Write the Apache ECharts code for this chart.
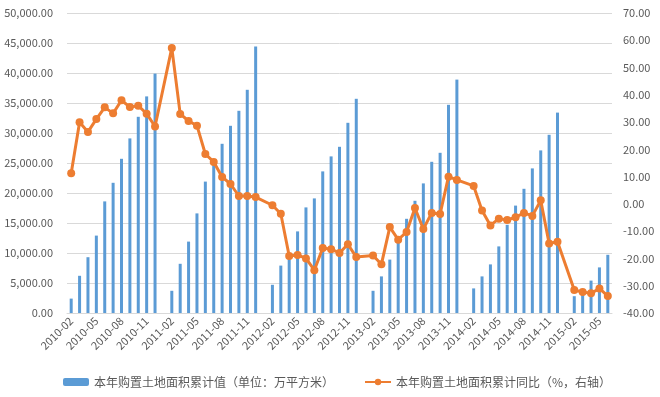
<!DOCTYPE html>
<html>
<head>
<meta charset="utf-8">
<script src="https://cdn.jsdelivr.net/npm/echarts@6/dist/echarts.min.js"></script>
<style>
html, body { margin: 0; padding: 0; background: #fff; }
#chart { width: 660px; height: 397px; }
</style>
</head>
<body>
<div id="chart"></div>
<script>
// 月份（1月数据与2月合并发布，1月为空）
var months = [
	'2010-02', '2010-03', '2010-04', '2010-05', '2010-06', '2010-07', '2010-08', '2010-09', '2010-10', '2010-11', '2010-12',
	'2011-01', '2011-02', '2011-03', '2011-04', '2011-05', '2011-06', '2011-07', '2011-08', '2011-09', '2011-10', '2011-11', '2011-12',
	'2012-01', '2012-02', '2012-03', '2012-04', '2012-05', '2012-06', '2012-07', '2012-08', '2012-09', '2012-10', '2012-11', '2012-12',
	'2013-01', '2013-02', '2013-03', '2013-04', '2013-05', '2013-06', '2013-07', '2013-08', '2013-09', '2013-10', '2013-11', '2013-12',
	'2014-01', '2014-02', '2014-03', '2014-04', '2014-05', '2014-06', '2014-07', '2014-08', '2014-09', '2014-10', '2014-11', '2014-12',
	'2015-01', '2015-02', '2015-03', '2015-04', '2015-05', '2015-06'
];

// 本年购置土地面积累计值（万平方米）
var landArea = [
	2400, 6200, 9300, 12900, 18600, 21700, 25700, 29100, 32700, 36100, 39900,
	null, 3700, 8200, 11900, 16600, 21900, 24900, 28200, 31200, 33700, 37200, 44400,
	null, 4700, 7900, 9600, 13600, 17600, 19100, 23600, 26100, 27700, 31700, 35700,
	null, 3700, 6100, 8900, 12200, 15700, 18700, 21600, 25200, 26700, 34700, 38900,
	null, 4100, 6100, 8100, 11100, 14700, 17900, 20700, 24100, 27100, 29700, 33400,
	null, 2800, 3400, 5400, 7600, 9700
];

// 本年购置土地面积累计同比（%）
var landYoy = [
	11.2, 29.9, 26.4, 31.1, 35.4, 33.2, 38.0, 35.5, 36.0, 33.1, 28.4,
	null, 57.2, 33.0, 30.4, 28.7, 18.3, 15.4, 9.9, 7.3, 2.9, 2.9, 2.5,
	null, -0.5, -3.6, -19.1, -18.7, -20.0, -24.3, -16.2, -16.6, -18.0, -14.8, -19.5,
	null, -18.9, -22.1, -8.5, -13.1, -10.3, -1.5, -9.2, -3.3, -3.7, 10.0, 8.8,
	null, 6.6, -2.4, -7.9, -5.4, -5.9, -4.9, -3.3, -4.4, 1.3, -14.5, -13.9,
	null, -31.6, -32.3, -32.8, -31.0, -33.8
];

var seriesNames = ['本年购置土地面积累计值（单位：万平方米）', '本年购置土地面积累计同比（%，右轴）'];

var chart = echarts.init(document.getElementById('chart'));
var textColor = '#595959';
var fontFamily = '"Noto Sans CJK SC", "Noto Sans", sans-serif';

var option = {
	animation: false,
	backgroundColor: '#fff',
	textStyle: { fontFamily: fontFamily },
	grid: { left: 67, right: 48, top: 13, bottom: 84 },
	legend: {
		left: 58,
		top: 371,
		itemGap: 30,
		itemWidth: 26,
		itemHeight: 8,
		textStyle: { color: textColor, fontSize: 12, fontFamily: fontFamily },
		data: seriesNames
	},
	xAxis: {
		type: 'category',
		data: months,
		boundaryGap: true,
		axisLine: { lineStyle: { color: '#D9D9D9' } },
		axisTick: { interval: 2, length: 4, lineStyle: { color: '#D9D9D9' } },
		axisLabel: {
			interval: 2,
			rotate: 45,
			margin: 6,
			color: textColor,
			fontSize: 11,
			fontFamily: fontFamily
		}
	},
	yAxis: [{
		type: 'value',
		min: 0,
		max: 50000,
		interval: 5000,
		axisLine: { show: false },
		axisTick: { show: false },
		splitLine: { lineStyle: { color: '#D9D9D9' } },
		axisLabel: {
			color: textColor,
			fontSize: 11,
			margin: 14,
			fontFamily: fontFamily,
			formatter: function (v) {
				return v.toLocaleString('en-US', { minimumFractionDigits: 2, maximumFractionDigits: 2 });
			}
		}
	}, {
		type: 'value',
		min: -40,
		max: 70,
		interval: 10,
		axisLine: { show: false },
		axisTick: { show: false },
		splitLine: { show: false },
		axisLabel: {
			color: textColor,
			fontSize: 11,
			margin: 11,
			fontFamily: fontFamily,
			formatter: function (v) { return v.toFixed(2); }
		}
	}],
	series: [{
		name: seriesNames[0],
		type: 'bar',
		barWidth: 3,
		itemStyle: { color: '#5B9BD5' },
		data: landArea
	}, {
		name: seriesNames[1],
		type: 'line',
		yAxisIndex: 1,
		connectNulls: true,
		symbol: 'circle',
		symbolSize: 8,
		showAllSymbol: true,
		lineStyle: { color: '#ED7D31', width: 3 },
		itemStyle: { color: '#ED7D31' },
		data: landYoy
	}]
};
chart.setOption(option);
</script>
</body>
</html>
